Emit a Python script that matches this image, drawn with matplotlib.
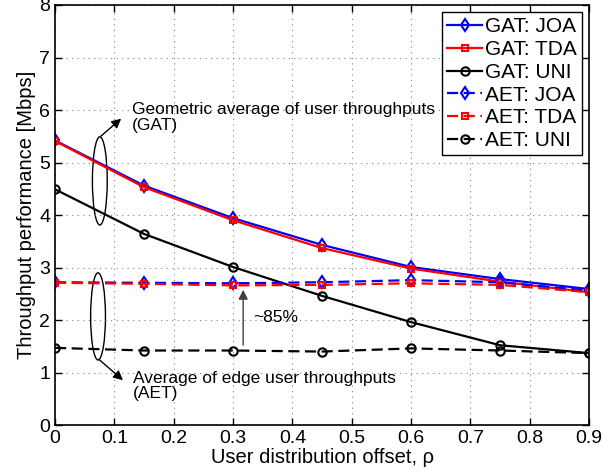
import matplotlib
matplotlib.use("Agg")
import matplotlib.pyplot as plt
from matplotlib.patches import Ellipse

plt.rcParams['font.family'] = ['Liberation Sans', 'DejaVu Sans']

# user distribution offset
rho = [0, 0.15, 0.3, 0.45, 0.6, 0.75, 0.9]

# geometric average of user throughputs (GAT)
gat_joa = [5.42, 4.56, 3.94, 3.43, 3.01, 2.78, 2.59]
gat_tda = [5.41, 4.53, 3.90, 3.37, 2.98, 2.73, 2.53]
gat_uni = [4.49, 3.64, 3.01, 2.46, 1.96, 1.52, 1.37]

# average of edge user throughputs (AET)
aet_joa = [2.72, 2.71, 2.70, 2.72, 2.76, 2.72, 2.56]
aet_tda = [2.71, 2.69, 2.66, 2.67, 2.70, 2.67, 2.53]
aet_uni = [1.47, 1.42, 1.42, 1.40, 1.46, 1.42, 1.37]

fig = plt.figure(figsize=(6.14, 4.76), dpi=100)
ax = fig.add_axes([0.0896, 0.107, 0.870, 0.8825])

lw = 1.6
dash = (0, (5, 2.5))
ax.plot(rho, gat_joa, color='blue', lw=lw, marker='d', ms=6, mfc='none', mew=1.5, label='GAT: JOA')
ax.plot(rho, gat_tda, color='red', lw=lw, marker='s', ms=5, mfc='none', mew=1.5, label='GAT: TDA')
ax.plot(rho, gat_uni, color='black', lw=lw, marker='o', ms=6, mfc='none', mew=1.5, label='GAT: UNI')
ax.plot(rho, aet_joa, color='blue', lw=lw, ls=dash, marker='d', ms=6, mfc='none', mew=1.5, label='AET: JOA')
ax.plot(rho, aet_tda, color='red', lw=lw, ls=dash, marker='s', ms=5, mfc='none', mew=1.5, label='AET: TDA')
ax.plot(rho, aet_uni, color='black', lw=lw, ls=dash, marker='o', ms=6, mfc='none', mew=1.5, label='AET: UNI')

ax.set_xlim(0, 0.9)
ax.set_ylim(0, 8)
ax.set_xticks([0, 0.1, 0.2, 0.3, 0.4, 0.5, 0.6, 0.7, 0.8, 0.9])
ax.set_xticklabels(['0', '0.1', '0.2', '0.3', '0.4', '0.5', '0.6', '0.7', '0.8', '0.9'])
ax.set_yticks(range(9))
ax.tick_params(direction='in', top=True, right=True, labelsize=14, length=5, width=1)
ax.grid(True, linestyle=(0, (1, 4)), color='gray', lw=0.8)
for s in ax.spines.values():
    s.set_linewidth(1.2)

ax.set_xlabel('User distribution offset, ρ', fontsize=14.5, labelpad=1)
ax.set_ylabel('Throughput performance [Mbps]', fontsize=14.5, labelpad=2)

# ellipses and annotations
ax.add_patch(Ellipse((0.0755, 4.65), 0.025, 1.68, fill=False, lw=1, color='black'))
ax.add_patch(Ellipse((0.0725, 2.07), 0.025, 1.66, fill=False, lw=1, color='black'))
ax.annotate('', xy=(0.115, 5.87), xytext=(0.074, 5.47),
            arrowprops=dict(arrowstyle='-|>', color='black', lw=1, mutation_scale=14))
ax.text(0.130, 5.62, 'Geometric average of user throughputs\n(GAT)', fontsize=12.5,
        va='baseline', linespacing=1.05)
ax.annotate('', xy=(0.118, 0.82), xytext=(0.071, 1.28),
            arrowprops=dict(arrowstyle='-|>', color='black', lw=1, mutation_scale=14))
ax.text(0.1315, 0.51, 'Average of edge user throughputs\n(AET)', fontsize=12.5,
        va='baseline', linespacing=1.05)
ax.annotate('', xy=(0.317, 2.63), xytext=(0.317, 1.47),
            arrowprops=dict(arrowstyle='-|>', color='#404040', lw=1, mutation_scale=14))
ax.text(0.334, 2.04, '~85%', fontsize=12.5, va='center')

leg = ax.legend(loc='upper right', fontsize=15, fancybox=False, framealpha=1,
                edgecolor='black', handlelength=1.65, handletextpad=0.15,
                labelspacing=0.18, borderpad=0.25, borderaxespad=0.35)
leg.get_frame().set_linewidth(1)

fig.savefig('out.png', dpi=100)
